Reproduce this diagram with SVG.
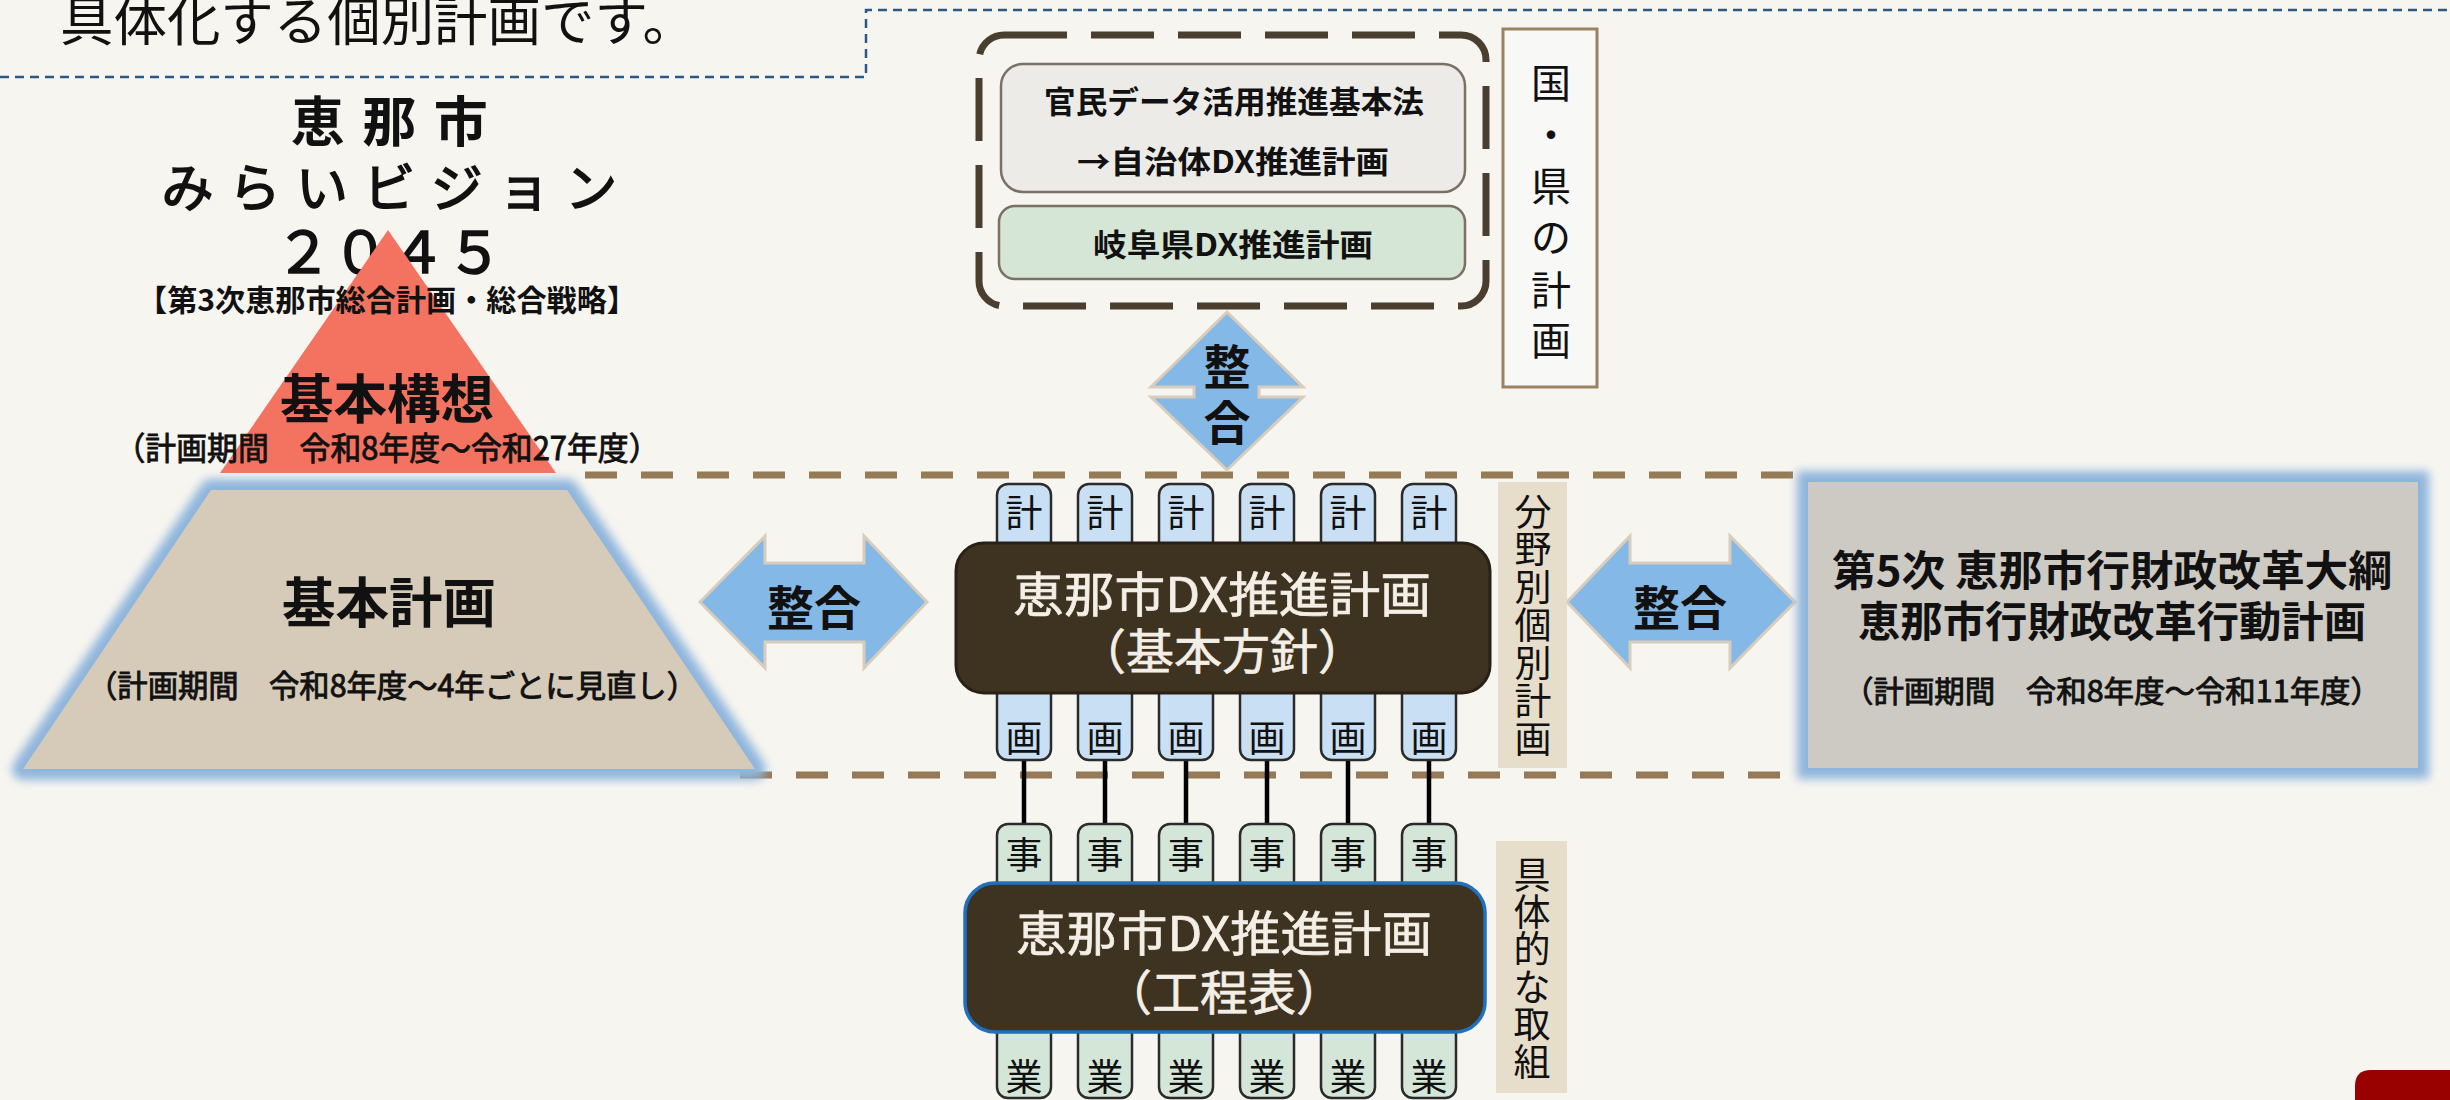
<svg xmlns="http://www.w3.org/2000/svg" width="2450" height="1100" viewBox="0 0 2450 1100">
<defs>
<filter id="glow" x="-20%" y="-20%" width="140%" height="140%">
<feGaussianBlur stdDeviation="5"/>
</filter>
<style>
text{font-family:"Noto Sans CJK JP","Noto Sans CJK SC",sans-serif;fill:#111;}
.b{font-weight:bold;}
.m{text-anchor:middle;}
.w{fill:#f4efe6;stroke:#f4efe6;stroke-width:0.7;}
.tabB{fill:#c9dff3;stroke:#2b2b2b;stroke-width:2.5;}
.tabG{fill:#d4e6d8;stroke:#2b2b2b;stroke-width:2.5;}
.tabT{font-size:37px;text-anchor:middle;}
.arrow{fill:#84b8e7;stroke:#d8cdbd;stroke-width:3;}
.arrT{font-size:47px;font-weight:bold;text-anchor:middle;}
.brownDash{fill:none;stroke:#957a58;stroke-width:7;stroke-dasharray:32 24;}
.side{fill:#e6ddcb;}
.vt{font-size:37px;text-anchor:middle;}
.conn{stroke:#000;stroke-width:4.5;}
.med{stroke:#111;stroke-width:0.9;}
.thick{stroke:#111;stroke-width:1.6;}
</style>
</defs>
<rect width="2450" height="1100" fill="#f7f5f0"/>

<g id="intro">
<path d="M0,77 H866 V10 H2450" fill="none" stroke="#2c5884" stroke-width="2.5" stroke-dasharray="9 6"/>
<text x="60" y="41" font-size="53" textLength="636" lengthAdjust="spacingAndGlyphs">具体化する個別計画です。</text>
</g>

<path class="brownDash" d="M585,475 H1800"/>
<path class="brownDash" d="M740,775 H1800"/>

<g id="vision-title">
<text class="m b" x="398" y="142" font-size="54" letter-spacing="17.5">恵那市</text>
<text class="m thick" x="397" y="207" font-size="52" letter-spacing="15.3">みらいビジョン</text>
<text class="m thick" x="389" y="273" font-size="57">２０４５</text>
</g>

<g id="kihon-kousou">
<polygon points="388,230 556,473 220,473" fill="#f37360"/>
<text class="m b" x="387" y="311" font-size="30" textLength="500" lengthAdjust="spacingAndGlyphs">【第3次恵那市総合計画・総合戦略】</text>
<text class="m b" x="387" y="419" font-size="53" textLength="214" lengthAdjust="spacingAndGlyphs">基本構想</text>
<text class="m med" x="387" y="460" font-size="32" textLength="545" lengthAdjust="spacingAndGlyphs">（計画期間　令和8年度～令和27年度）</text>
</g>

<g id="kihon-keikaku">
<polygon points="211,490 567,490 755,769 23,769" fill="none" stroke="#8fb5dd" stroke-width="22" stroke-linejoin="round" filter="url(#glow)"/>
<polygon points="211,490 567,490 755,769 23,769" fill="#d6cab8"/>
<text class="m b" x="389" y="623" font-size="54" textLength="214" lengthAdjust="spacingAndGlyphs">基本計画</text>
<text class="m med" x="392" y="697" font-size="31" textLength="610" lengthAdjust="spacingAndGlyphs">（計画期間　令和8年度～4年ごとに見直し）</text>
</g>

<g id="national-prefectural">
<rect x="979" y="35" width="507" height="271" rx="25" fill="none" stroke="#4a3f2f" stroke-width="7" stroke-dasharray="63 24"/>
<rect x="1001" y="64" width="464" height="128" rx="22" fill="#ecebe8" stroke="#7b7064" stroke-width="2.5"/>
<text class="m b" x="1234" y="113" font-size="31" textLength="380" lengthAdjust="spacingAndGlyphs">官民データ活用推進基本法</text>
<text class="m b" x="1233" y="173" font-size="31" textLength="312" lengthAdjust="spacingAndGlyphs">→自治体DX推進計画</text>
<rect x="999" y="206" width="466" height="73" rx="16" fill="#d5e5d6" stroke="#7b7064" stroke-width="2.5"/>
<text class="m b" x="1233" y="256" font-size="31" textLength="280" lengthAdjust="spacingAndGlyphs">岐阜県DX推進計画</text>
</g>

<g id="label-national">
<rect x="1503" y="29" width="94" height="358" fill="#f8f8f6" stroke="#9a8262" stroke-width="3"/>
<text font-size="40" text-anchor="middle"><tspan x="1551" y="98">国</tspan><tspan x="1551" y="150">・</tspan><tspan x="1551" y="201">県</tspan><tspan x="1551" y="252">の</tspan><tspan x="1551" y="305">計</tspan><tspan x="1551" y="355">画</tspan></text>
</g>

<g id="connectors">
<line class="conn" x1="1024" y1="758" x2="1024" y2="826"/>
<line class="conn" x1="1105" y1="758" x2="1105" y2="826"/>
<line class="conn" x1="1186" y1="758" x2="1186" y2="826"/>
<line class="conn" x1="1267" y1="758" x2="1267" y2="826"/>
<line class="conn" x1="1348" y1="758" x2="1348" y2="826"/>
<line class="conn" x1="1429" y1="758" x2="1429" y2="826"/>
<polygon class="arrow" points="1227,312 1303,387 1259,387 1259,397 1303,397 1227,470 1151,397 1194,397 1194,387 1151,387"/>
<text class="arrT" x="1227" y="384" font-size="46">整</text>
<text class="arrT" x="1227" y="440" font-size="46">合</text>
<polygon class="arrow" points="700,602 765,536 765,563 864,563 864,536 927,602 864,668 864,642 765,642 765,668"/>
<text class="arrT" x="814" y="625">整合</text>
<polygon class="arrow" points="1567,602 1630,536 1630,563 1730,563 1730,536 1795,602 1730,668 1730,642 1630,642 1630,668"/>
<text class="arrT" x="1680" y="625">整合</text>
</g>

<g id="dx-kihon">
<rect class="tabB" x="997" y="484" width="54" height="276" rx="11"/>
<rect class="tabB" x="1078" y="484" width="54" height="276" rx="11"/>
<rect class="tabB" x="1159" y="484" width="54" height="276" rx="11"/>
<rect class="tabB" x="1240" y="484" width="54" height="276" rx="11"/>
<rect class="tabB" x="1321" y="484" width="54" height="276" rx="11"/>
<rect class="tabB" x="1402" y="484" width="54" height="276" rx="11"/>
<text class="tabT" x="1024" y="527">計</text><text class="tabT" x="1105" y="527">計</text><text class="tabT" x="1186" y="527">計</text><text class="tabT" x="1267" y="527">計</text><text class="tabT" x="1348" y="527">計</text><text class="tabT" x="1429" y="527">計</text>
<text class="tabT" x="1024" y="752">画</text><text class="tabT" x="1105" y="752">画</text><text class="tabT" x="1186" y="752">画</text><text class="tabT" x="1267" y="752">画</text><text class="tabT" x="1348" y="752">画</text><text class="tabT" x="1429" y="752">画</text>
<rect x="956" y="543" width="534" height="150" rx="28" fill="#3e3220" stroke="#2a2116" stroke-width="3"/>
<text class="m w" x="1222" y="612" font-size="48" textLength="418" lengthAdjust="spacingAndGlyphs">恵那市DX推進計画</text>
<text class="m w" x="1222" y="669" font-size="48">（基本方針）</text>
</g>

<g id="dx-koutei">
<rect class="tabG" x="997" y="824" width="54" height="274" rx="11"/>
<rect class="tabG" x="1078" y="824" width="54" height="274" rx="11"/>
<rect class="tabG" x="1159" y="824" width="54" height="274" rx="11"/>
<rect class="tabG" x="1240" y="824" width="54" height="274" rx="11"/>
<rect class="tabG" x="1321" y="824" width="54" height="274" rx="11"/>
<rect class="tabG" x="1402" y="824" width="54" height="274" rx="11"/>
<text class="tabT" x="1024" y="869">事</text><text class="tabT" x="1105" y="869">事</text><text class="tabT" x="1186" y="869">事</text><text class="tabT" x="1267" y="869">事</text><text class="tabT" x="1348" y="869">事</text><text class="tabT" x="1429" y="869">事</text>
<text class="tabT" x="1024" y="1091">業</text><text class="tabT" x="1105" y="1091">業</text><text class="tabT" x="1186" y="1091">業</text><text class="tabT" x="1267" y="1091">業</text><text class="tabT" x="1348" y="1091">業</text><text class="tabT" x="1429" y="1091">業</text>
<rect x="965" y="883" width="520" height="149" rx="30" fill="#3e3220" stroke="#1f70c0" stroke-width="3.5"/>
<text class="m w" x="1224" y="951" font-size="48" textLength="416" lengthAdjust="spacingAndGlyphs">恵那市DX推進計画</text>
<text class="m w" x="1224" y="1010" font-size="48">（工程表）</text>
</g>

<g id="label-bunya">
<rect class="side" x="1498" y="482" width="69" height="286"/>
<text class="vt"><tspan x="1533" y="526">分</tspan><tspan x="1533" y="563">野</tspan><tspan x="1533" y="601">別</tspan><tspan x="1533" y="639">個</tspan><tspan x="1533" y="677">別</tspan><tspan x="1533" y="715">計</tspan><tspan x="1533" y="753">画</tspan></text>
</g>

<g id="label-gutai">
<rect class="side" x="1496" y="841" width="71" height="252"/>
<text class="vt"><tspan x="1532" y="889">具</tspan><tspan x="1532" y="926">体</tspan><tspan x="1532" y="963">的</tspan><tspan x="1532" y="1001">な</tspan><tspan x="1532" y="1038">取</tspan><tspan x="1532" y="1076">組</tspan></text>
</g>

<g id="gyozaisei">
<rect x="1808" y="482" width="610" height="286" fill="none" stroke="#8fb5dd" stroke-width="22" filter="url(#glow)"/>
<rect x="1808" y="482" width="610" height="286" fill="#cdc9c3"/>
<text class="m b" x="2112" y="586" font-size="42" textLength="560" lengthAdjust="spacingAndGlyphs">第5次 恵那市行財政改革大綱</text>
<text class="m b" x="2112" y="637" font-size="42" textLength="508" lengthAdjust="spacingAndGlyphs">恵那市行財政改革行動計画</text>
<text class="m med" x="2112" y="702" font-size="30" textLength="538" lengthAdjust="spacingAndGlyphs">（計画期間　令和8年度～令和11年度）</text>
</g>

<path id="corner-mark" d="M2355,1100 V1086 Q2355,1070 2371,1070 H2450 V1100 Z" fill="#990000"/>
</svg>
